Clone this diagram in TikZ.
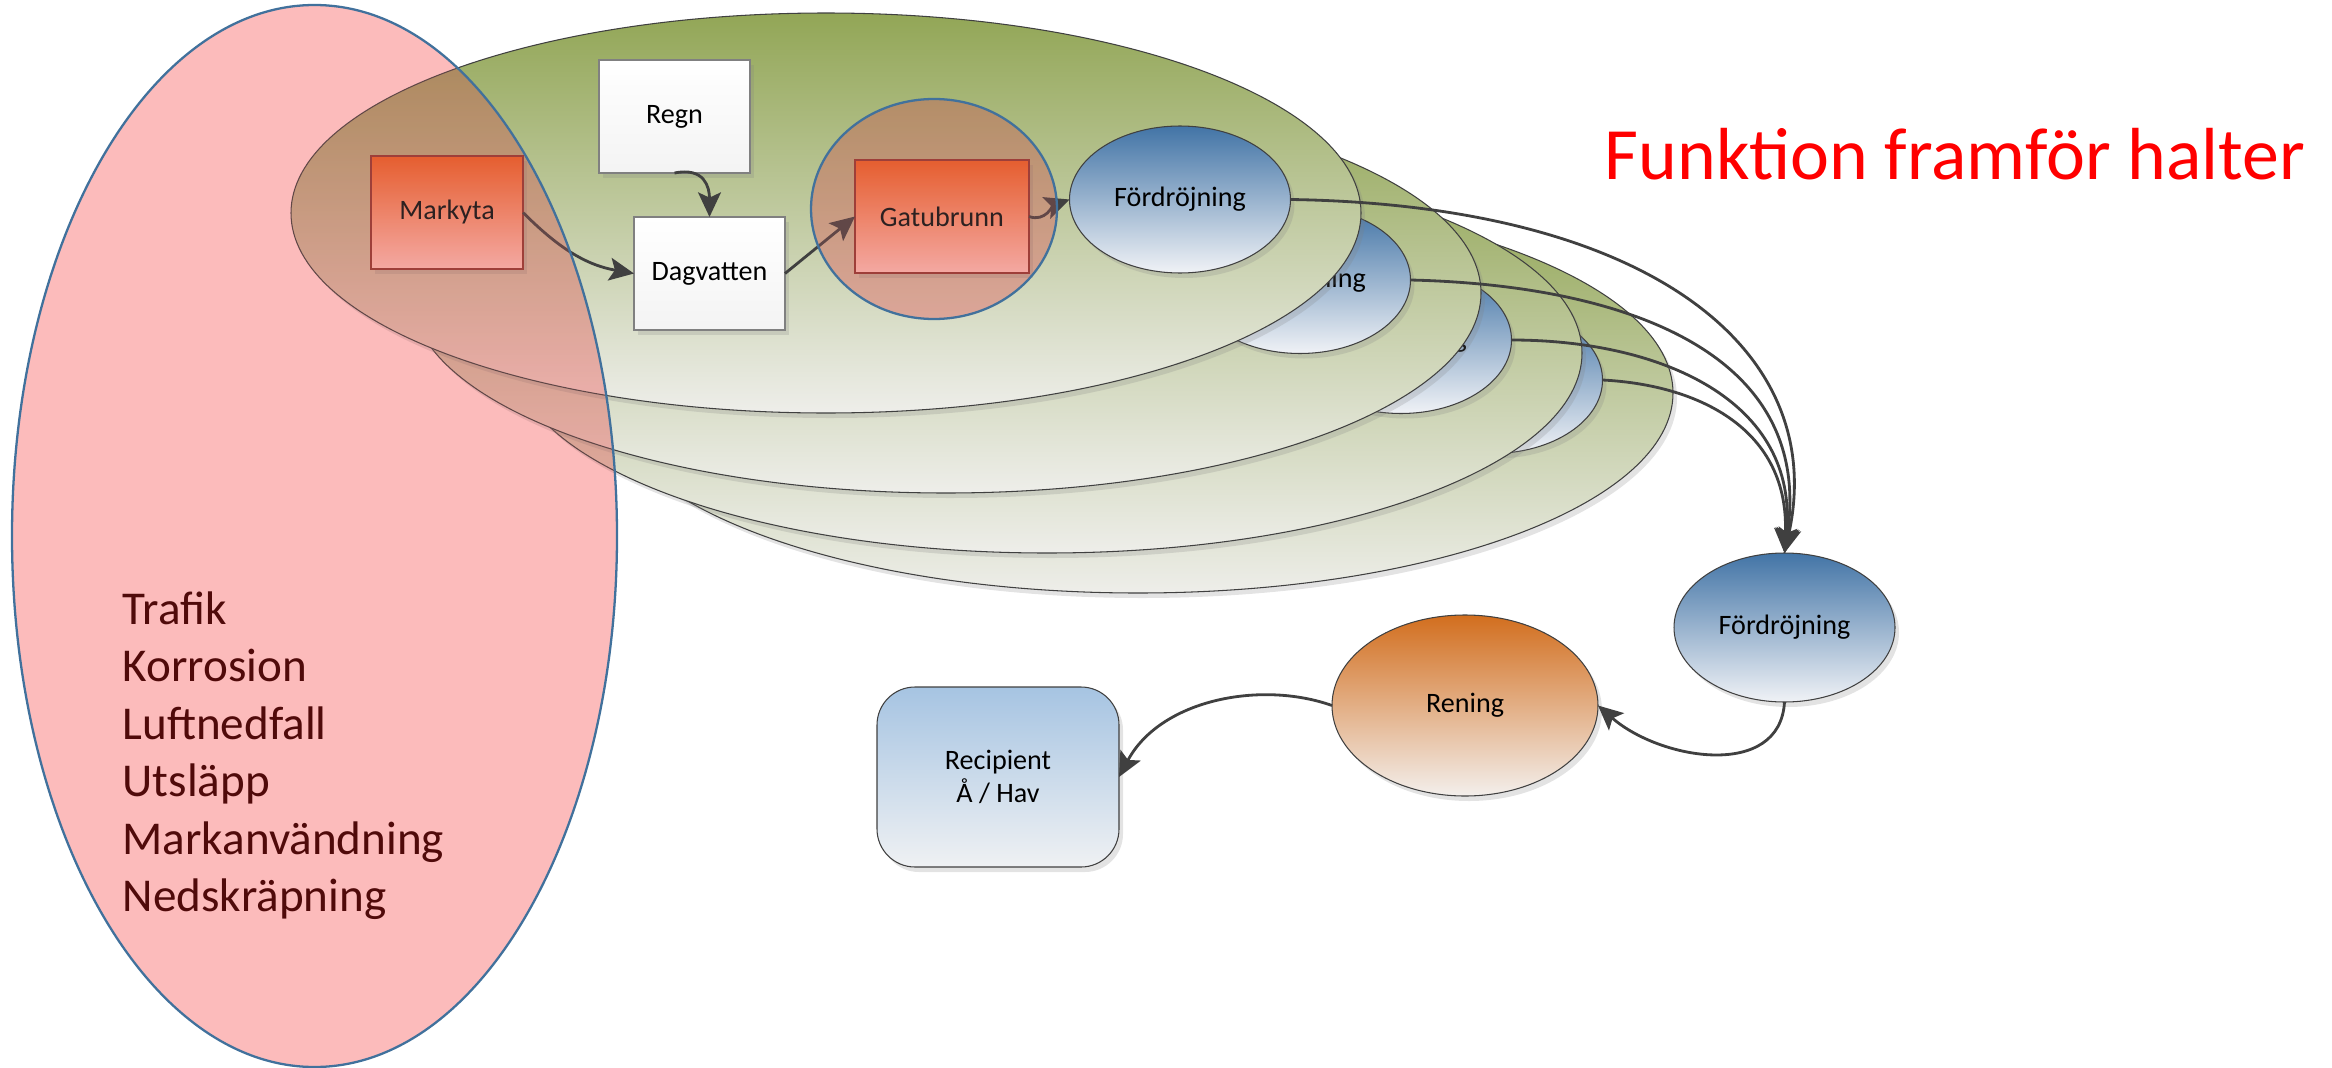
\documentclass[tikz,border=0pt]{standalone}
\usepackage{fontspec}
\setmainfont{Carlito}
\usetikzlibrary{shapes.geometric,shadows,arrows.meta}
\definecolor{gtop}{RGB}{146,166,86}
\definecolor{gbot}{RGB}{238,238,234}
\definecolor{btop}{RGB}{66,116,166}
\definecolor{bbot}{RGB}{240,242,246}
\definecolor{otop}{RGB}{228,102,24}
\definecolor{obot}{RGB}{246,226,216}
\definecolor{oline}{RGB}{140,50,40}
\definecolor{rtop}{RGB}{210,110,30}
\definecolor{rbot}{RGB}{243,239,236}
\definecolor{ctop}{RGB}{166,196,226}
\definecolor{cbot}{RGB}{239,241,243}
\definecolor{pinkc}{RGB}{252,187,187}
\definecolor{bluec}{RGB}{65,113,156}
\definecolor{linec}{RGB}{64,64,64}
\definecolor{listc}{RGB}{80,10,10}
\newcommand\lblfont{\fontsize{8}{9.6}\selectfont}
\tikzset{
  shad/.style={drop shadow={shadow xshift=0.04cm,shadow yshift=-0.05cm,opacity=0.22}},
  greenlayer/.style={ellipse,draw=linec,line width=0.3pt,top color=gtop,bottom color=gbot,
    minimum width=10.7cm,minimum height=4cm,inner sep=0pt,outer sep=0pt,shad},
  delaynode/.style={ellipse,draw=linec,line width=0.3pt,top color=btop,bottom color=bbot,
    minimum width=2.21cm,minimum height=1.47cm,inner sep=0pt,outer sep=0pt,font=\lblfont,shad},
  whitebox/.style={rectangle,draw=gray,line width=0.4pt,top color=white,bottom color=gray!9,
    minimum width=1.51cm,minimum height=1.13cm,inner sep=0pt,outer sep=0pt,font=\lblfont,shad},
  orangebox/.style={rectangle,draw=oline,line width=0.4pt,top color=otop,bottom color=obot,
    minimum width=1.52cm,minimum height=1.13cm,inner sep=0pt,outer sep=0pt,font=\lblfont,shad},
  pinkzone/.style={ellipse,fill=pinkc,inner sep=0pt,outer sep=0pt},
  pinkrim/.style={ellipse,draw=bluec,line width=0.65pt,fill=pinkc,fill opacity=0.18,inner sep=0pt,outer sep=0pt},
  conn/.style={draw=linec,line width=0.8pt,-{Stealth[length=7pt,width=6.5pt,inset=1.5pt]}},
  listtxt/.style={font=\fontsize{13.4}{16}\selectfont,text=listc,inner sep=0pt,anchor=base west},
}
\begin{document}
\begin{tikzpicture}
\useasboundingbox (0,0) rectangle (23.32,-10.68);
% stacked layers
\node[greenlayer] (E4) at (11.38,-3.93) {};
\node[delaynode] (F4) at (14.92,-3.80) {Fördröjning};
\node[greenlayer] (E3) at (10.47,-3.53) {};
\node[delaynode] (F3) at (14.01,-3.40) {Fördröjning};
\node[greenlayer] (E2) at (9.46,-2.93) {};
\node[delaynode] (F2) at (13.00,-2.80) {Fördröjning};
\node[greenlayer] (E1) at (8.26,-2.13) {};
% front layer content
\node[whitebox] (Regn) at (6.745,-1.165) {Regn};
\node[whitebox] (Dag) at (7.095,-2.735) {Dagvatten};
\node[orangebox] (Mark) at (4.47,-2.125) {Markyta};
\node[orangebox,minimum width=1.74cm] (Gbox) at (9.42,-2.165) {Gatubrunn};
\node[delaynode] (F1) at (11.80,-1.995) {Fördröjning};
% lower chain
\node[delaynode,minimum height=1.49cm] (F5) at (17.845,-6.275) {Fördröjning};
\node[ellipse,draw=linec,line width=0.3pt,top color=rtop,bottom color=rbot,
  minimum width=2.66cm,minimum height=1.81cm,inner sep=0pt,outer sep=0pt,font=\lblfont,shad]
  (Ren) at (14.65,-7.055) {Rening};
\node[rectangle,rounded corners=0.38cm,draw=linec,line width=0.3pt,top color=ctop,bottom color=cbot,
  minimum width=2.42cm,minimum height=1.80cm,inner sep=0pt,outer sep=0pt,font=\lblfont,
  align=center,shad] (Rec) at (9.98,-7.77) {Recipient\\Å / Hav};
% connectors
\draw[conn] (Mark.east) to[out=-45,in=170] (Dag.west);
\draw[conn] (Regn.south) .. controls +(0.30,0.06) and +(0,0.30) .. (Dag.north);
\draw[conn] (Dag.east) -- (Gbox.west);
\draw[conn] (Gbox.east) to[out=-20,in=200] (F1.west);
\draw[conn] (F1.east) .. controls (16.50,-2.05) and (18.30,-3.50) .. (F5.north);
\draw[conn] (F2.east) .. controls (16.20,-2.85) and (18.15,-3.50) .. (F5.north);
\draw[conn] (F3.east) .. controls (16.60,-3.40) and (18.00,-4.00) .. (F5.north);
\draw[conn] (F4.east) .. controls (17.00,-3.85) and (17.90,-4.30) .. (F5.north);
\draw[conn] (F5.south) .. controls (17.80,-7.80) and (16.60,-7.60) .. (Ren.east);
\draw[conn] (Ren.west) .. controls (12.60,-6.80) and (11.60,-7.00) .. (Rec.east);
% pink source zones (multiplied)
\begin{scope}[blend mode=multiply]
\node[pinkzone,minimum width=6.05cm,minimum height=10.62cm] (Src) at (3.145,-5.36) {};
\node[pinkzone,minimum width=2.46cm,minimum height=2.20cm] (Gcirc) at (9.34,-2.09) {};
\end{scope}
\node[pinkrim,minimum width=6.05cm,minimum height=10.62cm] (SrcRim) at (Src.center) {};
\node[pinkrim,minimum width=2.46cm,minimum height=2.20cm] (GcircRim) at (Gcirc.center) {};
% texts
\foreach \t [count=\i] in {Trafik,Korrosion,Luftnedfall,Utsläpp,Markanvändning,Nedskräpning}
  \node[listtxt] (L\i) at (1.22,{-6.24-0.575*(\i-1)}) {\t};
\node[font=\fontsize{21}{25}\selectfont,text={rgb,255:red,255;green,0;blue,0},inner sep=0pt,anchor=base west]
  (Title) at (16.04,-1.79) {Funktion framför halter};
\end{tikzpicture}
\end{document}
